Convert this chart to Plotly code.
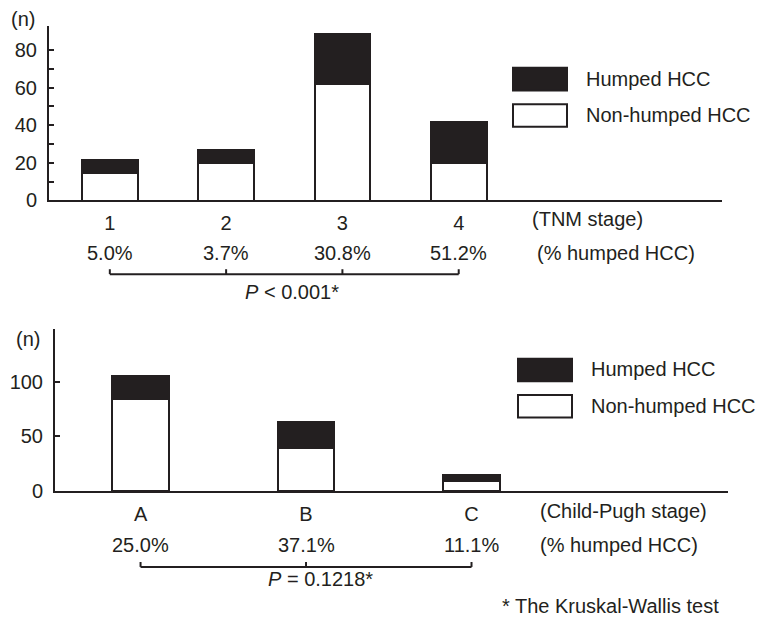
import plotly.graph_objects as go

# ---- data ----
tnm_stages = ["1", "2", "3", "4"]
tnm_nonhumped = [15, 20, 62, 20]
tnm_humped = [7, 7, 27, 22]
tnm_pct = ["5.0%", "3.7%", "30.8%", "51.2%"]
tnm_p = "<i>P</i> < 0.001*"

cp_stages = ["A", "B", "C"]
cp_nonhumped = [84, 39, 9]
cp_humped = [21, 24, 6]
cp_pct = ["25.0%", "37.1%", "11.1%"]
cp_p = "<i>P</i> = 0.1218*"

top_yticks = [0, 10, 20, 30, 40, 50, 60, 70, 80]
top_yticktext = ["0", "", "20", "", "40", "", "60", "", "80"]
bot_yticks = [0, 50, 100]

W, H = 760, 630
INK = "#231f20"
FONT = "Liberation Sans, Arial, sans-serif"
FS = 20


def px(x):
    return x / W


def py(y):
    return 1 - y / H


fig = go.Figure()

# top chart bars
fig.add_trace(go.Bar(x=tnm_stages, y=tnm_nonhumped, name="Non-humped HCC",
                     marker=dict(color="white", line=dict(color=INK, width=2)),
                     width=0.48, xaxis="x", yaxis="y", showlegend=False))
fig.add_trace(go.Bar(x=tnm_stages, y=tnm_humped, name="Humped HCC",
                     marker=dict(color=INK, line=dict(color=INK, width=2)),
                     width=0.48, xaxis="x", yaxis="y", showlegend=False))
# bottom chart bars
fig.add_trace(go.Bar(x=cp_stages, y=cp_nonhumped, name="Non-humped HCC",
                     marker=dict(color="white", line=dict(color=INK, width=2)),
                     width=0.34, xaxis="x2", yaxis="y2", showlegend=False))
fig.add_trace(go.Bar(x=cp_stages, y=cp_humped, name="Humped HCC",
                     marker=dict(color=INK, line=dict(color=INK, width=2)),
                     width=0.34, xaxis="x2", yaxis="y2", showlegend=False))

axis_common = dict(showgrid=False, zeroline=False, showline=True,
                   linecolor=INK, linewidth=2,
                   tickfont=dict(family=FONT, size=FS, color=INK))

fig.update_layout(
    width=W, height=H, autosize=False, margin=dict(l=0, r=0, t=0, b=0),
    paper_bgcolor="white", plot_bgcolor="white",
    barmode="stack", bargap=0, showlegend=False,
    font=dict(family=FONT, size=FS, color=INK),
    xaxis=dict(domain=[px(49), px(722)], anchor="y", type="category",
               categoryorder="array", categoryarray=tnm_stages,
               range=[-0.523, 5.264], ticks="", ticklabelstandoff=4,
               **axis_common),
    yaxis=dict(domain=[py(204), py(26)], anchor="x", range=[0, 93],
               tickmode="array", tickvals=top_yticks, ticktext=top_yticktext,
               ticks="inside", ticklen=5, tickwidth=2, tickcolor=INK,
               ticklabelstandoff=6, **axis_common),
    xaxis2=dict(domain=[px(55), px(728)], anchor="y2", type="category",
                categoryorder="array", categoryarray=cp_stages,
                range=[-0.517, 3.55], ticks="", ticklabelstandoff=4,
                **axis_common),
    yaxis2=dict(domain=[py(500), py(335)], anchor="x2", range=[0, 147.7],
                tickmode="array", tickvals=bot_yticks,
                ticks="inside", ticklen=5, tickwidth=2, tickcolor=INK,
                ticklabelstandoff=6, **axis_common),
)

ann = []
shapes = []


def text(x, y, s, xanchor="center", xref="paper"):
    ann.append(dict(x=x, y=y, xref=xref, yref="paper", text=s,
                    showarrow=False, xanchor=xanchor, yanchor="middle",
                    font=dict(family=FONT, size=FS, color=INK)))


# (n) labels
text(px(23), py(19), "(n)")
text(px(28), py(345), "(n)")

# top chart extra rows (category index positions on the category axis)
n_tnm = len(tnm_stages)
text(px(530), py(223), "(TNM stage)", xanchor="left")
for i, p in enumerate(tnm_pct):
    text(i, py(258), p, xref="x")
text(px(535), py(258), "(% humped HCC)", xanchor="left")
shapes.append(dict(type="line", xref="x", yref="paper", x0=0,
                   x1=n_tnm - 1, y0=py(279), y1=py(279),
                   line=dict(color=INK, width=2)))
for i in range(n_tnm):
    shapes.append(dict(type="line", xref="x", yref="paper", x0=i, x1=i,
                       y0=py(279), y1=py(274), line=dict(color=INK, width=2)))
text(px(292), py(297), tnm_p)

# bottom chart extra rows
n_cp = len(cp_stages)
text(px(538), py(520), "(Child-Pugh stage)", xanchor="left")
for i, p in enumerate(cp_pct):
    text(i, py(555), p, xref="x2")
text(px(538), py(555), "(% humped HCC)", xanchor="left")
shapes.append(dict(type="line", xref="x2", yref="paper", x0=0,
                   x1=n_cp - 1, y0=py(577), y1=py(577),
                   line=dict(color=INK, width=2)))
for i in range(n_cp):
    shapes.append(dict(type="line", xref="x2", yref="paper", x0=i, x1=i,
                       y0=py(577), y1=py(572), line=dict(color=INK, width=2)))
text(px(320), py(589), cp_p)
text(px(500), py(617), "* The Kruskal-Wallis test", xanchor="left")

# legends (drawn as swatches + labels)
for (lx, ty, tx) in [(513, 69, 584), (518, 365, 589)]:
    shapes.append(dict(type="rect", xref="paper", yref="paper",
                       x0=px(lx), x1=px(lx + 54), y0=py(ty), y1=py(ty + 23),
                       fillcolor=INK, line=dict(color=INK, width=2)))
    shapes.append(dict(type="rect", xref="paper", yref="paper",
                       x0=px(lx), x1=px(lx + 54), y0=py(ty + 37),
                       y1=py(ty + 60), fillcolor="white",
                       line=dict(color=INK, width=2)))
    text(px(tx), py(ty + 11), "Humped HCC", xanchor="left")
    text(px(tx), py(ty + 48), "Non-humped HCC", xanchor="left")

fig.update_layout(annotations=ann, shapes=shapes)
fig.write_html("out.html",
               config={"displayModeBar": False, "responsive": False},
               post_script="document.body.style.margin='0';"
                           "document.body.style.padding='0';"
                           "document.documentElement.style.overflow='hidden';")
